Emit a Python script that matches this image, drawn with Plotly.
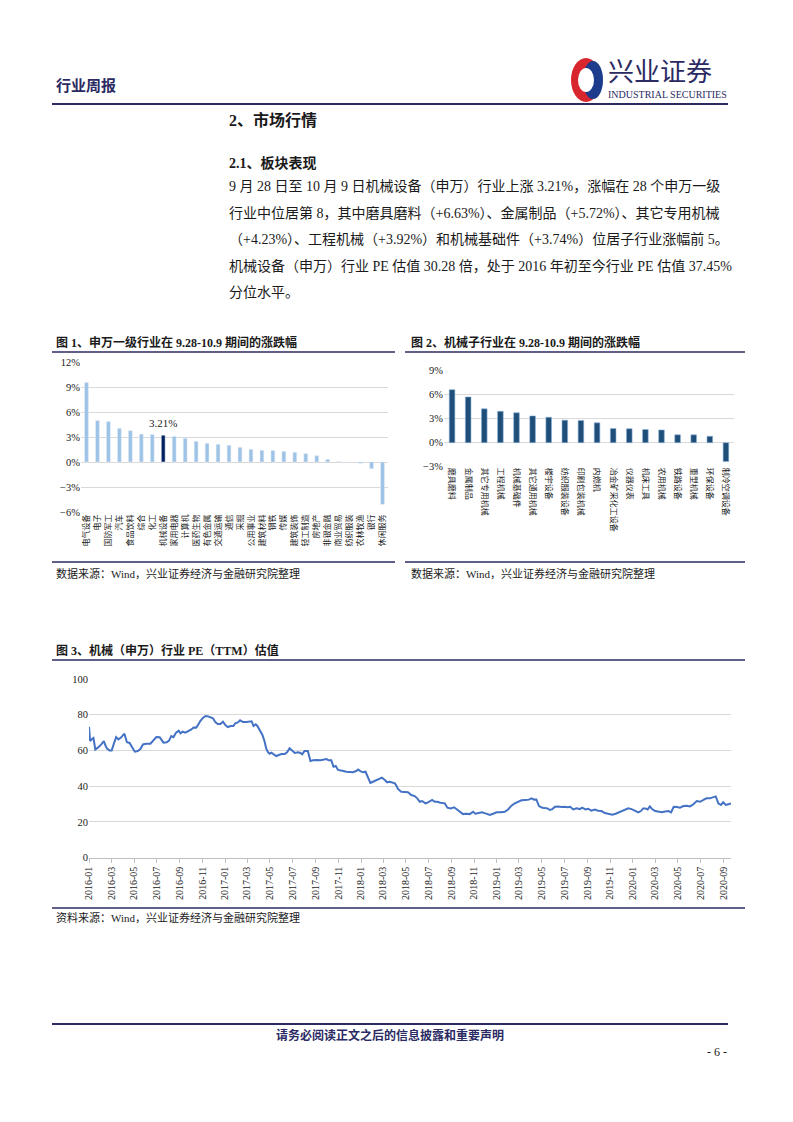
import plotly.graph_objects as go

# page is 793x1122; the html body adds an 8px margin, so the figure is 16px smaller
PAGE_W, PAGE_H = 793, 1122
OFF = 8
W, H = PAGE_W - 2 * OFF, PAGE_H - 2 * OFF

# ---------------- data ----------------
sw_industries = ["电气设备", "电子", "国防军工", "汽车", "食品饮料", "综合", "化工", "机械设备",
                 "家用电器", "计算机", "医药生物", "有色金属", "交通运输", "通信", "采掘", "公用事业",
                 "建筑材料", "钢铁", "传媒", "建筑装饰", "轻工制造", "房地产", "非银金融", "商业贸易",
                 "纺织服装", "农林牧渔", "银行", "休闲服务"]
sw_changes = [9.53, 4.97, 4.85, 4.04, 3.76, 3.35, 3.30, 3.21,
              3.08, 2.84, 2.48, 2.24, 2.12, 2.00, 1.76, 1.52,
              1.40, 1.38, 1.28, 1.16, 1.00, 0.76, 0.32, 0.05,
              -0.03, -0.15, -0.80, -5.08]
highlight_industry = "机械设备"

sub_industries = ["磨具磨料", "金属制品", "其它专用机械", "工程机械", "机械基础件", "其它通用机械",
                  "楼宇设备", "纺织服装设备", "印刷包装机械", "内燃机", "冶金矿采化工设备", "仪器仪表",
                  "机床工具", "农用机械", "铁路设备", "重型机械", "环保设备", "制冷空调设备"]
sub_changes = [6.63, 5.72, 4.23, 3.92, 3.74, 3.35, 3.18, 2.82, 2.78, 2.48, 1.77, 1.75,
               1.65, 1.60, 0.99, 0.98, 0.80, -2.35]

pe_dates = ["2016-01-01", "2016-01-04", "2016-01-09", "2016-01-13", "2016-01-18", "2016-01-25",
            "2016-02-03", "2016-02-10", "2016-02-14", "2016-02-18", "2016-02-25", "2016-03-02",
            "2016-03-08", "2016-03-14", "2016-03-20", "2016-03-27", "2016-04-05", "2016-04-12",
            "2016-04-19", "2016-04-25", "2016-05-03", "2016-05-11", "2016-05-18", "2016-05-25",
            "2016-06-03", "2016-06-14", "2016-06-22", "2016-06-30", "2016-07-09", "2016-07-13",
            "2016-07-19", "2016-07-28", "2016-08-03", "2016-08-09", "2016-08-15", "2016-08-22",
            "2016-08-29", "2016-09-03", "2016-09-09", "2016-09-16", "2016-09-23", "2016-10-02",
            "2016-10-08", "2016-10-15", "2016-10-20", "2016-10-26", "2016-11-02", "2016-11-09",
            "2016-11-16", "2016-11-22", "2016-11-29", "2016-12-06", "2016-12-12", "2016-12-19",
            "2016-12-26", "2017-01-01", "2017-01-08", "2017-01-15", "2017-01-23", "2017-01-28",
            "2017-02-04", "2017-02-10", "2017-02-18", "2017-02-27", "2017-03-08", "2017-03-13",
            "2017-03-18", "2017-03-24", "2017-03-28", "2017-04-03", "2017-04-11", "2017-04-17",
            "2017-04-21", "2017-04-26", "2017-04-30", "2017-05-05", "2017-05-11", "2017-05-18",
            "2017-05-25", "2017-06-01", "2017-06-10", "2017-06-16", "2017-06-23", "2017-06-29",
            "2017-07-07", "2017-07-16", "2017-07-22", "2017-07-27", "2017-08-02", "2017-08-11",
            "2017-08-18", "2017-08-25", "2017-09-03", "2017-09-14", "2017-09-23", "2017-09-30",
            "2017-10-06", "2017-10-13", "2017-10-19", "2017-10-25", "2017-10-31", "2017-11-06",
            "2017-11-15", "2017-11-22", "2017-12-01", "2017-12-10", "2017-12-19", "2017-12-24",
            "2017-12-30", "2018-01-06", "2018-01-13", "2018-01-20", "2018-01-26", "2018-02-02",
            "2018-02-11", "2018-02-20", "2018-02-26", "2018-03-06", "2018-03-12", "2018-03-19",
            "2018-03-28", "2018-04-02", "2018-04-06", "2018-04-10", "2018-04-19", "2018-04-28",
            "2018-05-07", "2018-05-16", "2018-05-25", "2018-06-01", "2018-06-08", "2018-06-14",
            "2018-06-23", "2018-06-30", "2018-07-11", "2018-07-18", "2018-07-25", "2018-08-02",
            "2018-08-14", "2018-08-21", "2018-08-30", "2018-09-08", "2018-09-14", "2018-09-23",
            "2018-10-02", "2018-10-11", "2018-10-20", "2018-10-29", "2018-11-04", "2018-11-13",
            "2018-11-22", "2018-12-01", "2018-12-13", "2018-12-22", "2018-12-31", "2019-01-11",
            "2019-01-22", "2019-01-31", "2019-02-09", "2019-02-18", "2019-03-01", "2019-03-08",
            "2019-03-19", "2019-03-28", "2019-04-04", "2019-04-11", "2019-04-17", "2019-04-24",
            "2019-05-03", "2019-05-10", "2019-05-17", "2019-05-23", "2019-05-30", "2019-06-06",
            "2019-06-15", "2019-06-24", "2019-07-01", "2019-07-10", "2019-07-17", "2019-07-25",
            "2019-08-03", "2019-08-12", "2019-08-18", "2019-08-27", "2019-09-03", "2019-09-12",
            "2019-09-21", "2019-09-30", "2019-10-09", "2019-10-18", "2019-10-29", "2019-11-07",
            "2019-11-16", "2019-11-25", "2019-12-04", "2019-12-13", "2019-12-20", "2019-12-29",
            "2020-01-07", "2020-01-16", "2020-01-23", "2020-01-29", "2020-02-04", "2020-02-10",
            "2020-02-16", "2020-02-22", "2020-03-01", "2020-03-10", "2020-03-19", "2020-03-28",
            "2020-04-06", "2020-04-13", "2020-04-20", "2020-04-29", "2020-05-07", "2020-05-16",
            "2020-05-25", "2020-06-03", "2020-06-12", "2020-06-21", "2020-06-30", "2020-07-09",
            "2020-07-17", "2020-07-26", "2020-08-04", "2020-08-11", "2020-08-18", "2020-08-25",
            "2020-08-31", "2020-09-07", "2020-09-14", "2020-09-21"]
pe_values = [73.3, 65.3, 66.4, 67.0, 60.6, 61.6,
             63.4, 65.3, 62.9, 61.2, 60.0, 60.0,
             64.0, 67.5, 66.2, 67.2, 69.4, 64.6,
             64.2, 62.1, 59.3, 59.7, 60.8, 63.4,
             63.8, 63.8, 65.7, 67.5, 67.4, 66.4,
             64.4, 64.6, 65.5, 68.1, 67.5, 70.0,
             71.1, 69.6, 70.5, 70.0, 70.7, 71.8,
             72.9, 72.8, 74.3, 76.5, 78.2, 79.3,
             79.1, 78.5, 78.0, 75.7, 74.8, 74.8,
             76.1, 74.3, 73.1, 73.7, 73.7, 75.2,
             75.7, 76.9, 75.9, 75.9, 75.9, 76.3,
             73.7, 74.6, 73.9, 71.5, 68.7, 64.9,
             61.2, 59.0, 58.2, 58.8, 58.0, 56.9,
             57.5, 58.0, 58.0, 59.0, 61.2, 60.0,
             58.6, 59.0, 58.6, 57.8, 59.7, 59.7,
             54.1, 54.5, 54.7, 54.5, 54.9, 55.2,
             54.5, 54.5, 50.9, 51.3, 49.1, 48.7,
             48.5, 48.1, 47.8, 47.8, 48.5, 49.4,
             48.5, 47.8, 48.1, 44.4, 41.8, 42.5,
             43.3, 44.4, 44.8, 43.5, 42.2, 42.5,
             42.0, 41.6, 40.3, 38.5, 36.9, 36.9,
             36.6, 35.1, 34.5, 33.2, 31.3, 31.7,
             30.4, 31.0, 32.3, 31.3, 31.3, 30.8,
             30.4, 28.0, 27.6, 28.2, 27.2, 25.7,
             24.4, 24.6, 24.4, 25.7, 24.6, 25.0,
             25.4, 24.8, 23.9, 24.6, 25.4, 25.4,
             25.7, 27.0, 29.1, 30.4, 31.7, 32.1,
             32.3, 32.5, 33.2, 32.5, 32.6, 28.9,
             28.0, 28.0, 27.6, 26.7, 27.2, 28.5,
             28.7, 28.4, 28.5, 28.2, 28.5, 27.0,
             27.6, 27.2, 28.0, 27.0, 27.4, 26.3,
             26.9, 26.3, 26.1, 25.0, 24.3, 24.1,
             24.6, 25.4, 26.1, 27.0, 27.6, 27.2,
             26.3, 25.4, 26.1, 27.6, 27.6, 27.0,
             28.7, 27.2, 26.1, 25.7, 25.4, 25.9,
             26.1, 25.4, 28.5, 28.4, 28.0, 28.9,
             29.1, 28.7, 29.9, 31.7, 31.3, 32.3,
             33.2, 33.2, 33.8, 34.3, 30.4, 29.5,
             31.0, 29.5, 29.9, 30.3]

# ---------------- styling ----------------
SERIF = "Liberation Serif, Noto Sans CJK SC"
CJK = "Noto Sans CJK SC"
NAVY = "#2B2A63"
GRID = "#D9D9D9"
LIGHT_BLUE = "#9DC3E6"
DARK_HL = "#002060"
BAR2 = "#1F4E79"
LINE = "#4472C4"


def px(x):
    return (x - OFF) / W


def py(y):
    return 1 - (y - OFF) / H


fig = go.Figure()

fig.add_trace(go.Bar(
    x=sw_industries, y=sw_changes, xaxis="x", yaxis="y",
    marker=dict(color=[DARK_HL if c == highlight_industry else LIGHT_BLUE for c in sw_industries]),
    showlegend=False, hoverinfo="x+y"))

fig.add_trace(go.Bar(
    x=sub_industries, y=sub_changes, xaxis="x2", yaxis="y2",
    marker=dict(color=BAR2, line=dict(color="#8FB4DC", width=0.6)),
    showlegend=False))

fig.add_trace(go.Scatter(
    x=pe_dates, y=pe_values, xaxis="x3", yaxis="y3", mode="lines",
    line=dict(color=LINE, width=2), showlegend=False))

tick_font = dict(family=SERIF, size=10.5, color="#1a1a1a")
cat_font = dict(family=CJK, size=8, color="#1a1a1a")

fig.update_layout(
    width=W, height=H, margin=dict(l=0, r=0, t=0, b=0, pad=0, autoexpand=False),
    paper_bgcolor="white", plot_bgcolor="white",
    bargap=0.65,
    xaxis=dict(domain=[px(81), px(388)], anchor="y", tickangle=-90, automargin=False,
               tickmode="array", tickvals=sw_industries, ticktext=sw_industries,
               tickfont=cat_font, showgrid=False, showline=False, ticks="", fixedrange=True),
    yaxis=dict(domain=[py(512), py(362)], anchor="x", range=[-6, 12], dtick=3, automargin=False,
               ticksuffix="%", gridcolor=GRID, gridwidth=1, zeroline=False,
               tickfont=tick_font, showline=False),
    xaxis2=dict(domain=[px(444), px(734)], anchor="y2", tickangle=90, automargin=False,
                tickmode="array", tickvals=sub_industries, ticktext=sub_industries,
                tickfont=cat_font, showgrid=False, showline=False, ticks=""),
    yaxis2=dict(domain=[py(466.7), py(370.7)], anchor="x2", range=[-3, 9], dtick=3, automargin=False,
                ticksuffix="%", gridcolor=GRID, gridwidth=1, zeroline=False,
                tickfont=tick_font, showline=False),
    xaxis3=dict(domain=[px(89), px(731)], anchor="y3", type="date", automargin=False,
                range=["2016-01-01", "2020-09-21"], tick0="2016-01-01", dtick="M2",
                tickformat="%Y-%m", tickangle=-90, tickfont=dict(family=SERIF, size=10, color="#1a1a1a"),
                showgrid=False, showline=True, linecolor="#BFBFBF", linewidth=1,
                ticks="outside", ticklen=4, tickcolor="#BFBFBF"),
    yaxis3=dict(domain=[py(857.7), py(679)], anchor="x3", range=[0, 100], dtick=20, automargin=False,
                gridcolor=GRID, gridwidth=1, zeroline=False, tickfont=tick_font, showline=False),
)

# bar-label for highlighted industry
fig.add_annotation(x=highlight_industry, y=sw_changes[sw_industries.index(highlight_industry)],
                   xref="x", yref="y", text="3.21%", showarrow=False, yanchor="bottom", yshift=4,
                   font=dict(family=SERIF, size=11, color="#1a1a1a"))


def text(x, y, s, size, bold=False, color="#1a1a1a", anchor="left", family=SERIF):
    if bold:
        s = "<b>" + s + "</b>"
    fig.add_annotation(x=px(x), y=py(y), xref="paper", yref="paper", text=s, showarrow=False,
                       xanchor=anchor, yanchor="middle", borderpad=0,
                       font=dict(family=family, size=size, color=color))


def hline(x0, x1, y, width, color=NAVY):
    fig.add_shape(type="line", xref="paper", yref="paper", x0=px(x0), x1=px(x1), y0=py(y), y1=py(y),
                  line=dict(color=color, width=width))


# header
text(55, 85, "行业周报", 15, bold=True, color=NAVY)
hline(52, 728, 104, 2)
# logo
fig.add_shape(type="circle", xref="paper", yref="paper", x0=px(571), x1=px(601), y0=py(102), y1=py(58),
              line=dict(width=0), fillcolor="#D7262E")
fig.add_shape(type="circle", xref="paper", yref="paper", x0=px(583), x1=px(603), y0=py(99), y1=py(61),
              line=dict(width=0), fillcolor="#1E3C8C")
fig.add_shape(type="circle", xref="paper", yref="paper", x0=px(578), x1=px(594), y0=py(92), y1=py(68),
              line=dict(width=0), fillcolor="white")
text(607, 69, "兴业证券", 26, bold=False, color=NAVY, family=CJK)
text(607, 94.5, "INDUSTRIAL SECURITIES", 10, color=NAVY)

# section titles
text(228, 120, "2、市场行情", 16, bold=True)
text(228, 163, "2.1、板块表现", 14, bold=True)

para = ["9 月 28 日至 10 月 9 日机械设备（申万）行业上涨 3.21%，涨幅在 28 个申万一级",
        "行业中位居第 8，其中磨具磨料（+6.63%）、金属制品（+5.72%）、其它专用机械",
        "（+4.23%）、工程机械（+3.92%）和机械基础件（+3.74%）位居子行业涨幅前 5。",
        "机械设备（申万）行业 PE 估值 30.28 倍，处于 2016 年初至今行业 PE 估值 37.45%",
        "分位水平。"]
for i, line in enumerate(para):
    text(228, 186 + i * 26.7, line, 14)

# figure titles and frames
text(55, 342, "图 1、申万一级行业在 9.28-10.9 期间的涨跌幅", 12, bold=True)
text(410, 342, "图 2、机械子行业在 9.28-10.9 期间的涨跌幅", 12, bold=True)
hline(52, 395, 352, 1.5)
hline(405, 745, 352, 1.5)
hline(52, 395, 562, 1.5)
hline(405, 745, 562, 1.5)
text(55, 573, "数据来源：Wind，兴业证券经济与金融研究院整理", 11)
text(410, 573, "数据来源：Wind，兴业证券经济与金融研究院整理", 11)

text(55, 650, "图 3、机械（申万）行业 PE（TTM）估值", 12, bold=True)
hline(52, 745, 660, 1.5)
hline(52, 745, 908, 1.5)
text(55, 917, "资料来源：Wind，兴业证券经济与金融研究院整理", 11)

# footer
hline(52, 728, 1024, 2)
text(390, 1035, "请务必阅读正文之后的信息披露和重要声明", 12, bold=True, color=NAVY, anchor="center")
text(728, 1052, "- 6 -", 12, anchor="right")

fig.write_html("out.html")
